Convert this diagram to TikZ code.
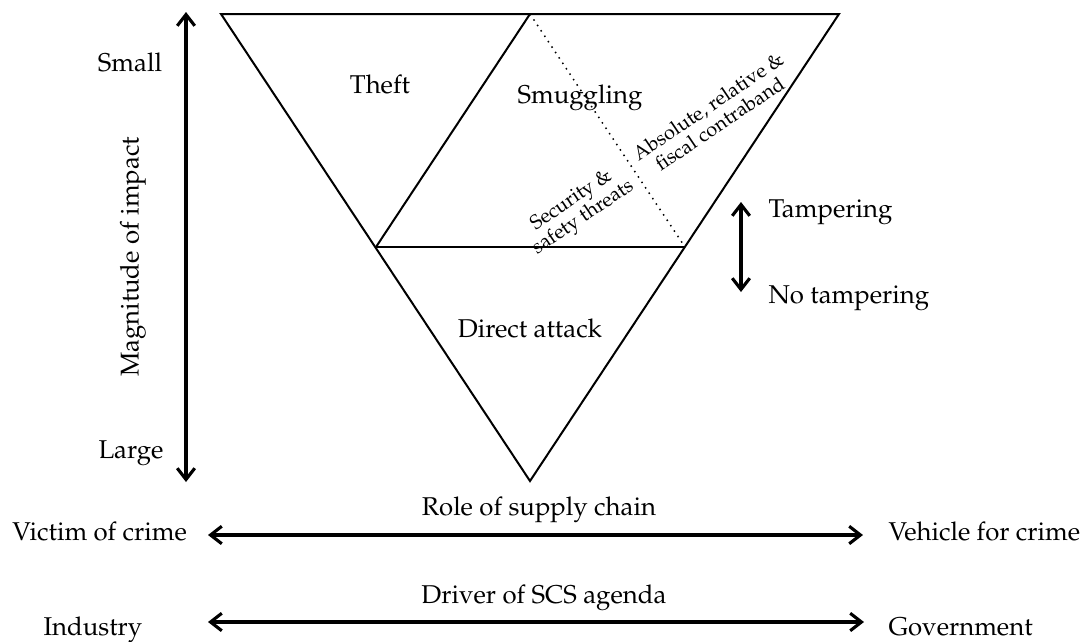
\documentclass[tikz,border=0pt]{standalone}
\usepackage[T1]{fontenc}
\usepackage{mathpazo}
\usetikzlibrary{arrows.meta}
\begin{document}
\begin{tikzpicture}[x=0.4pt,y=-0.4pt,
  lbl/.style={inner sep=0pt,font=\fontsize{10.3}{12.5}\selectfont},
  small/.style={inner sep=1pt,font=\fontsize{8}{8.4}\selectfont,align=center},
  edge/.style={line width=0.8pt,line join=miter},
  dbl/.style={line width=1.25pt,{Straight Barb[length=4.5pt,width=7pt,line width=1.25pt]}-{Straight Barb[length=4.5pt,width=7pt,line width=1.25pt]}}]
\useasboundingbox (0,0) rectangle (1088,641);
% triangle vertices
\coordinate (tl) at (221,14);
\coordinate (tm) at (530,14);
\coordinate (tr) at (839,14);
\coordinate (ml) at (376,247);
\coordinate (mr) at (685,247);
\coordinate (bot) at (530,481);
\draw[edge] (tl) -- (tr) -- (bot) -- cycle;
\draw[edge] (ml) -- (mr);
\draw[edge] (ml) -- (tm);
\draw[line width=0.6pt,dotted] (tm) -- (mr);
% region labels
\node[lbl] (theft) at (380,84) {Theft};
\node[lbl,anchor=base] (smug) at (580,103) {Smuggling};
\node[lbl] (direct) at (530,328) {Direct attack};
\node[small,rotate=34,anchor=east] (sec) at (629,175) {Security \&\\safety threats};
\node[small,rotate=34,anchor=west] (abs) at (638,166) {Absolute, relative \&\\fiscal contraband};
% magnitude axis
\coordinate (mtop) at (186,12);
\coordinate (mbot) at (186,482);
\draw[dbl] (mtop) -- (mbot);
\node[lbl,anchor=base] (smallL) at (130,71) {Small};
\node[lbl,anchor=base] (largeL) at (131,458) {Large};
\node[lbl,rotate=90] (mag) at (133,257) {Magnitude of impact};
% tampering
\coordinate (ttop) at (741,202);
\coordinate (tbot) at (741,292);
\draw[dbl] (ttop) -- (tbot);
\node[lbl,anchor=base west] (tamp) at (768,217) {Tampering};
\node[lbl,anchor=base west] (notamp) at (768,303) {No tampering};
% role of supply chain
\node[lbl,anchor=base] (role) at (539,515) {Role of supply chain};
\node[lbl,anchor=base west] (victim) at (12,540) {Victim of crime};
\node[lbl,anchor=base west] (vehicle) at (888,540) {Vehicle for crime};
\coordinate (ra) at (208,535);
\coordinate (rb) at (863,535);
\draw[dbl] (ra) -- (rb);
% driver of SCS agenda
\node[lbl,anchor=base] (driver) at (544,603) {Driver of SCS agenda};
\node[lbl,anchor=base west] (industry) at (43,635) {Industry};
\node[lbl,anchor=base west] (gov) at (888,635) {Government};
\coordinate (da) at (208,622);
\coordinate (db) at (864,622);
\draw[dbl] (da) -- (db);
\end{tikzpicture}
\end{document}
